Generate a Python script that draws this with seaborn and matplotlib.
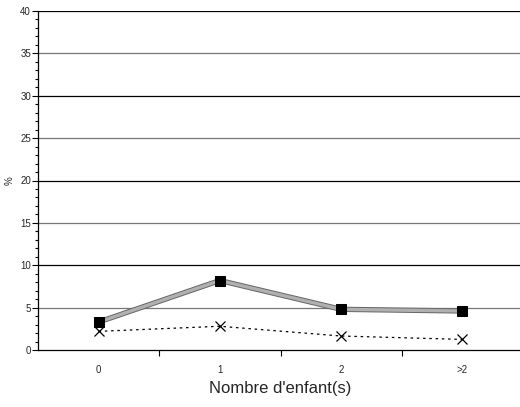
import matplotlib
matplotlib.use("Agg")
import matplotlib.pyplot as plt
import seaborn as sns
import pandas as pd
import numpy as np

sns.set_style("white")
plt.rcParams["font.family"] = ["Liberation Sans", "DejaVu Sans"]

# data
categories = ["0", "1", "2", ">2"]
serie_pleine = [3.3, 8.2, 4.8, 4.6]
serie_pointillee = [2.2, 2.8, 1.65, 1.25]

df = pd.DataFrame({"x": np.arange(len(categories)),
                   "plein": serie_pleine,
                   "pointille": serie_pointillee})

fig = plt.figure(figsize=(5.2, 4.07), dpi=100)
ax = fig.add_axes([38 / 520, 57 / 407, 485 / 520, 339 / 407])

# gridlines: black at 10s, grey at 5s
for v in range(5, 41, 5):
    ax.axhline(v, color="black" if v % 10 == 0 else "#777777", lw=0.9, zorder=0)

# thick grey line with dark edge
sns.lineplot(data=df, x="x", y="plein", ax=ax, color="#666666", lw=3.8, zorder=2)
sns.lineplot(data=df, x="x", y="plein", ax=ax, color="#b0b0b0", lw=2.4, zorder=3,
             marker="s", markersize=6.5, markerfacecolor="black",
             markeredgecolor="black")
sns.lineplot(data=df, x="x", y="pointille", ax=ax, color="black", lw=0.9,
             linestyle=(0, (2, 3)), marker="x", markersize=7,
             markeredgecolor="black", markeredgewidth=0.9, zorder=4)

ax.set_xlim(-0.5, 3.5)
ax.set_ylim(0, 40)
ax.set_xticks(range(len(categories)))
ax.set_xticklabels(categories, fontsize=7)
ax.set_xticks([0.5, 1.5, 2.5], minor=True)
ax.tick_params(axis="x", which="major", length=0, pad=11)
ax.tick_params(axis="x", which="minor", bottom=True, length=4, width=0.8,
               direction="out", color="black")
ax.set_yticks(range(0, 41, 5))
ax.set_yticklabels([str(v) for v in range(0, 41, 5)], fontsize=7)
ax.set_yticks(range(0, 41), minor=True)
ax.tick_params(axis="y", which="major", left=True, length=4, width=0.8,
               direction="out", pad=1, color="black")
ax.tick_params(axis="y", which="minor", left=True, length=2.5, width=0.8,
               direction="out", color="black")

for s in ["top", "right"]:
    ax.spines[s].set_visible(False)
ax.spines["left"].set_color("black")
ax.spines["bottom"].set_color("black")
ax.spines["left"].set_linewidth(0.9)
ax.spines["bottom"].set_linewidth(0.9)

ax.set_xlabel("Nombre d'enfant(s)", fontsize=12, labelpad=4)
ax.set_ylabel("%", fontsize=7, labelpad=4)

fig.savefig("out.png", dpi=100)
